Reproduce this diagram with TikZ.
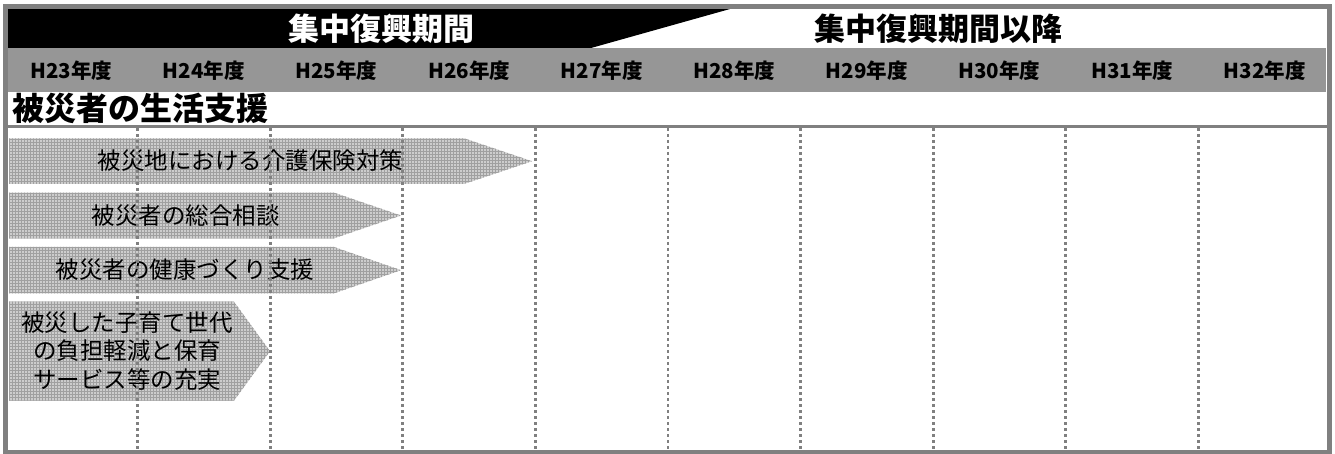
\documentclass[tikz,border=0pt]{standalone}
\usepackage{fontspec}
\setmainfont{Noto Sans CJK JP}
\usetikzlibrary{patterns}
\definecolor{framegray}{RGB}{128,128,128}
\definecolor{bandgray}{RGB}{150,150,150}
\definecolor{arrowgray}{RGB}{205,205,205}
\definecolor{gridgray}{RGB}{160,160,160}

\begin{document}
\begin{tikzpicture}[
    x=1pt, y=-1pt,
    phase/.style={font=\fontsize{31}{31}\selectfont\bfseries, inner sep=0pt},
    yearlabel/.style={font=\fontsize{20.5}{20.5}\selectfont\bfseries, inner sep=0pt},
    measure/.style={preaction={fill=arrowgray}, pattern=grid, pattern color=gridgray},
    measuretext/.style={font=\fontsize{23.5}{28.5}\selectfont, inner sep=0pt, align=center},
    divider/.style={framegray, line width=2.7pt, dash pattern=on 3.3pt off 2.7pt}
]
\useasboundingbox (0,0) rectangle (1335,454);
\fill[white] (0,0) rectangle (1335,454);

% Period header
\fill[black] (8,9) -- (730,9) -- (590,48.3) -- (8,48.3) -- cycle;
\node[phase, text=white] (focus) at (381,29) {集中復興期間};
\node[phase] (after) at (938,29) {集中復興期間以降};

% Fiscal years
\fill[bandgray] (8,48.3) rectangle (1326,91.7);
\foreach \k in {23,...,32}
    \node[yearlabel] (fy\k) at ({5+132.6*(\k-22.5)},71) {H\k{}年度};

% Section title
\node[anchor=west, font=\fontsize{32}{32}\selectfont\bfseries, inner sep=0pt] (support) at (12,108) {被災者の生活支援};

% Measures
\path[measure] (9,138.3) -- (464,138.3) -- (532,161.2) -- (464,184) -- (9,184) -- cycle;
\path[measure] (9,192.7) -- (334,192.7) -- (401,215.5) -- (334,238.3) -- (9,238.3) -- cycle;
\path[measure] (9,247) -- (334,247) -- (401,270.2) -- (334,293.3) -- (9,293.3) -- cycle;
\path[measure] (9,301.7) -- (234,301.7) -- (270,351.2) -- (234,400.7) -- (9,400.7) -- cycle;

\node[measuretext] (care) at (250.5,161) {被災地における介護保険対策};
\node[measuretext] (consult) at (185.5,215.5) {被災者の総合相談};
\node[measuretext] (health) at (185,270) {被災者の健康づくり支援};
\node[measuretext] (child) at (127,351) {被災した子育て世代\\の負担軽減と保育\\サービス等の充実};

% Year dividers
\foreach \k in {1,...,9}
    \draw[divider] ({5+132.6*\k},128) -- ({5+132.6*\k},450);

% Frame
\draw[framegray, line width=3pt] (5,126.3) -- (1329,126.3);
\draw[framegray, line width=5pt] (5.8,6.5) rectangle (1329.5,452.5);

\end{tikzpicture}
\end{document}
